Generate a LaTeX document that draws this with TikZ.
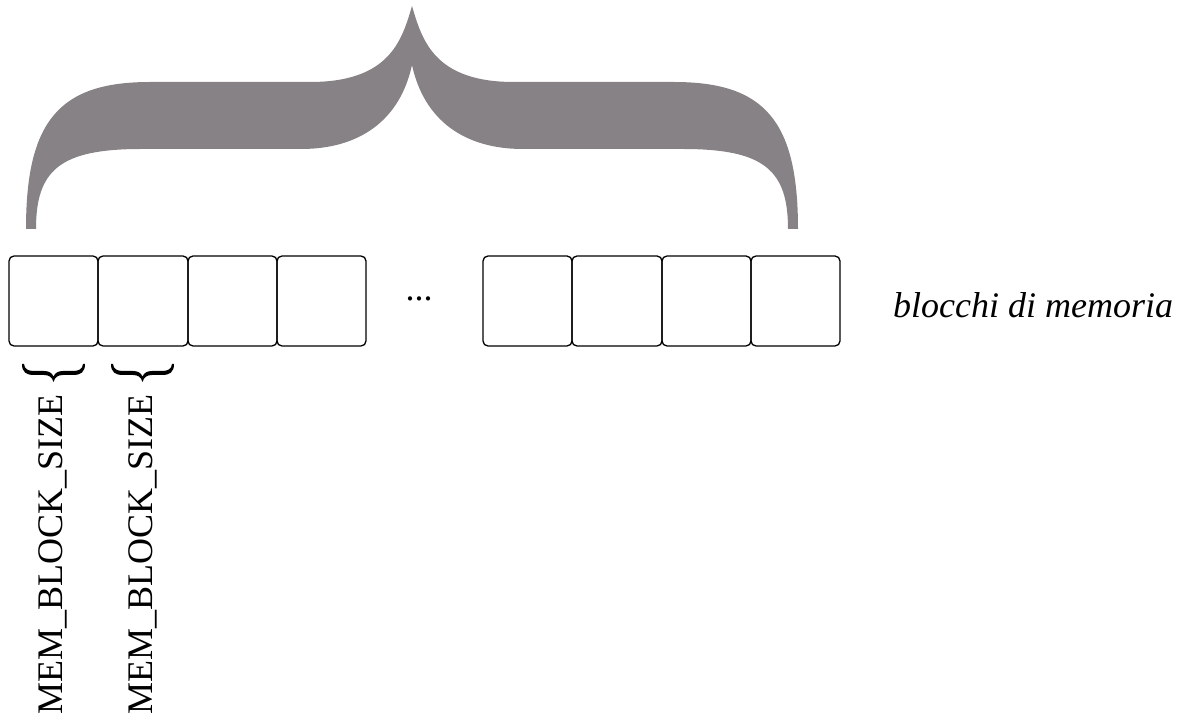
\documentclass[tikz,border=0pt]{standalone}
\usepackage{fontspec}
\setmainfont{Liberation Serif}
\definecolor{bracegray}{HTML}{878285}
\tikzset{
  memblock/.style={draw=black, line width=1.3pt, rounded corners=5pt},
  bigtext/.style={inner sep=0pt, font=\fontsize{36}{40}\selectfont}
}
\newcommand{\smallbracepath}{%
  (0,0) .. controls (0,8) and (4,11) .. (12,11) -- (22,11)
  .. controls (27,11) and (30,13) .. (31.5,18)
  .. controls (33,13) and (36,11) .. (41,11) -- (51,11)
  .. controls (59,11) and (63,8) .. (63,0) -- (61,0)
  .. controls (60.5,5) and (57,7) .. (51,7) -- (41,7)
  .. controls (36,7) and (33,9) .. (31.5,12.5)
  .. controls (30,9) and (27,7) .. (22,7) -- (12,7)
  .. controls (6,7) and (2.5,5) .. (2,0) -- cycle}
\begin{document}
\begin{tikzpicture}[x=1pt, y=-1pt]
\useasboundingbox (0,0) rectangle (1184,719);
% big gray brace
\fill[bracegray] (26,229) .. controls (26,120) and (60,82) .. (150,82) -- (310,82)
  .. controls (390,82) and (402,40) .. (412,6)
  .. controls (422,40) and (434,82) .. (514,82) -- (674,82)
  .. controls (764,82) and (798,120) .. (798,229) -- (788,229)
  .. controls (788,170) and (764,149) .. (683,149) -- (523,149)
  .. controls (464,149) and (424,120) .. (412,65)
  .. controls (400,120) and (360,149) .. (301,149) -- (141,149)
  .. controls (60,149) and (36,170) .. (36,229) -- cycle;
% memory blocks
\foreach \n/\xa/\xb in {1/9/98, 2/98/188, 3/188/277, 4/277/366, 5/483/572, 6/572/662, 7/662/751, 8/751/840}{
  \draw[memblock] (\xa,256) rectangle (\xb,346);
}
\node[bigtext, anchor=base west] (dots) at (405.5,301) {...};
\node[bigtext, anchor=base west, font=\fontsize{36}{40}\selectfont\itshape] (lbl) at (893,318) {blocchi di memoria};
% small braces
\begin{scope}[shift={(22,364)}]
  \fill[black] \smallbracepath;
\end{scope}
\begin{scope}[shift={(111,364)}]
  \fill[black] \smallbracepath;
\end{scope}
\node[bigtext, rotate=90, anchor=base west] (s1) at (62,715) {MEM\_BLOCK\_SIZE};
\node[bigtext, rotate=90, anchor=base west] (s2) at (152,715) {MEM\_BLOCK\_SIZE};
\end{tikzpicture}
\end{document}
